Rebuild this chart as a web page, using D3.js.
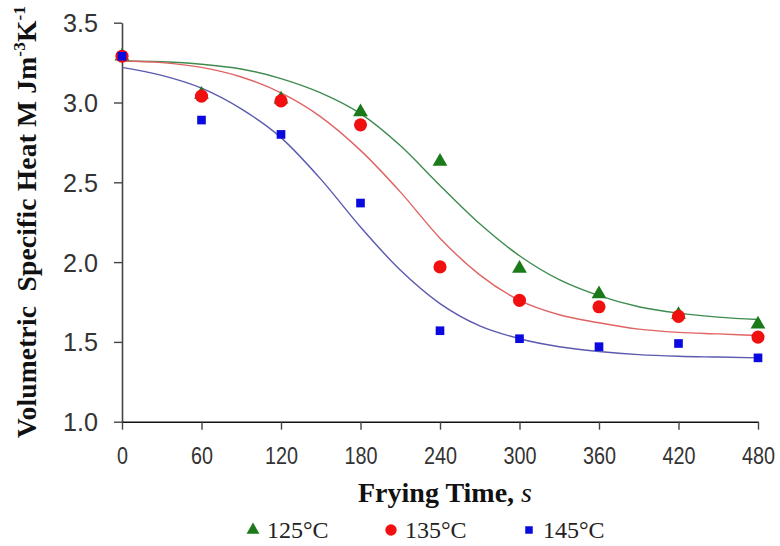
<!DOCTYPE html>
<html>
<head>
<meta charset="utf-8">
<script src="https://cdn.jsdelivr.net/npm/d3@7"></script>
<style>
  html, body { margin: 0; padding: 0; background: #fff; }
  svg { display: block; }
</style>
</head>
<body>
<svg id="chart" width="780" height="546"></svg>
<script>
// ---- data ----
const seriesNames = ["125°C", "135°C", "145°C"];
const times = [0, 60, 120, 180, 240, 300, 360, 420, 480];
const obs125 = [3.29, 3.05, 3.02, 2.94, 2.63, 1.96, 1.80, 1.67, 1.61];
const obs135 = [3.29, 3.04, 3.01, 2.86, 1.97, 1.76, 1.72, 1.66, 1.53];
const obs145 = [3.29, 2.89, 2.80, 2.37, 1.57, 1.52, 1.47, 1.49, 1.40];

const fitTimes = [0, 30, 60, 90, 120, 150, 180, 210, 240, 270, 300, 330, 360, 390, 420, 450, 480];
const fit125 = [3.26, 3.255, 3.24, 3.21, 3.15, 3.06, 2.93, 2.73, 2.48, 2.24, 2.04, 1.89, 1.79, 1.72, 1.68, 1.655, 1.64];
const fit135 = [3.26, 3.25, 3.22, 3.16, 3.06, 2.91, 2.70, 2.44, 2.15, 1.92, 1.76, 1.67, 1.62, 1.58, 1.56, 1.55, 1.54];
const fit145 = [3.22, 3.17, 3.09, 2.96, 2.78, 2.52, 2.22, 1.95, 1.74, 1.60, 1.52, 1.47, 1.44, 1.42, 1.41, 1.405, 1.40];

const xTicks = [0, 60, 120, 180, 240, 300, 360, 420, 480];
const yTicks = [1.0, 1.5, 2.0, 2.5, 3.0, 3.5];

// ---- layout ----
const svg = d3.select("#chart");
svg.append("rect").attr("width", 780).attr("height", 546).attr("fill", "#fff");

const x = d3.scaleLinear().domain([0, 480]).range([122, 758]);
const y = d3.scaleLinear().domain([1.0, 3.5]).range([421.7, 22.7]);

const tickFont = "'Liberation Sans', Arial, sans-serif";
const serif = "'Liberation Serif', 'Times New Roman', serif";

// axes
const yAxis = d3.axisLeft(y).tickValues(yTicks).tickFormat(d3.format(".1f"))
  .tickSize(8).tickSizeOuter(0).tickPadding(16);
const gy = svg.append("g").attr("transform", `translate(${x(0)},0)`).call(yAxis);
gy.select(".domain").attr("stroke", "#444").attr("stroke-width", 1.6);
gy.selectAll(".tick line").attr("stroke", "#444").attr("stroke-width", 1.4);
gy.selectAll(".tick text").attr("font-family", tickFont).attr("font-size", 25)
  .attr("fill", "#333").attr("dy", "0.36em")
  .attr("textLength", 35).attr("lengthAdjust", "spacingAndGlyphs");

const xAxis = d3.axisBottom(x).tickValues(xTicks).tickFormat(d3.format("d"))
  .tickSize(8).tickSizeOuter(0).tickPadding(18);
const gx = svg.append("g").attr("transform", `translate(0,${y(1.0)})`).call(xAxis);
gx.select(".domain").attr("stroke", "#111").attr("stroke-width", 1.6);
gx.selectAll(".tick line").attr("stroke", "#444").attr("stroke-width", 1.4);
gx.selectAll(".tick text").attr("font-family", tickFont).attr("font-size", 23).attr("fill", "#333")
  .attr("textLength", d => String(d).length * 11).attr("lengthAdjust", "spacingAndGlyphs");

// fitted curves
const colors = { line: ["#3e8b4e", "#e06464", "#5a5ab0"], mark: ["#1a7a1a", "#f01010", "#0a0ae0"] };
const fits = [fit125, fit135, fit145];
const line = d3.line().x(d => x(d[0])).y(d => y(d[1])).curve(d3.curveMonotoneX);
fits.forEach((f, i) => {
  svg.append("path")
    .attr("d", line(fitTimes.map((t, j) => [t, f[j]])))
    .attr("fill", "none").attr("stroke", colors.line[i]).attr("stroke-width", 1.4);
});

// markers
const symbols = [d3.symbolTriangle, d3.symbolCircle, d3.symbolSquare];
const sizes = [95, 135, 75];
const obs = [obs125, obs135, obs145];
obs.forEach((o, i) => {
  svg.append("g").selectAll("path").data(times.map((t, j) => [t, o[j]])).join("path")
    .attr("transform", d => `translate(${x(d[0])},${y(d[1])})`)
    .attr("d", d3.symbol().type(symbols[i]).size(sizes[i]))
    .attr("fill", colors.mark[i]);
});

// axis titles
const xt = svg.append("text").attr("x", 445).attr("y", 502).attr("text-anchor", "middle")
  .attr("font-family", serif).attr("font-weight", "bold").attr("font-size", 28).attr("fill", "#111");
xt.append("tspan").text("Frying Time, ");
xt.append("tspan").attr("font-style", "italic").attr("font-weight", "normal").text("s");

const yt = svg.append("text").attr("transform", "translate(36,222) rotate(-90)")
  .attr("text-anchor", "middle").attr("font-family", serif).attr("font-weight", "bold")
  .attr("font-size", 27.5).attr("letter-spacing", 0.2).attr("fill", "#111");
yt.append("tspan").text("Volumetric\u00a0 Specific Heat M Jm");
yt.append("tspan").attr("font-size", 17).attr("dy", -11).text("-3");
yt.append("tspan").attr("dy", 11).text("K");
yt.append("tspan").attr("font-size", 17).attr("dy", -11).text("-1");

// legend
const legX = [253, 391, 529];
seriesNames.forEach((name, i) => {
  svg.append("path")
    .attr("transform", `translate(${legX[i]},530)`)
    .attr("d", d3.symbol().type(symbols[i]).size(sizes[i] * 0.75))
    .attr("fill", colors.mark[i]);
  svg.append("text").attr("x", legX[i] + 14).attr("y", 538)
    .attr("font-family", serif).attr("font-size", 24).attr("fill", "#222").text(name);
});
</script>
</body>
</html>
